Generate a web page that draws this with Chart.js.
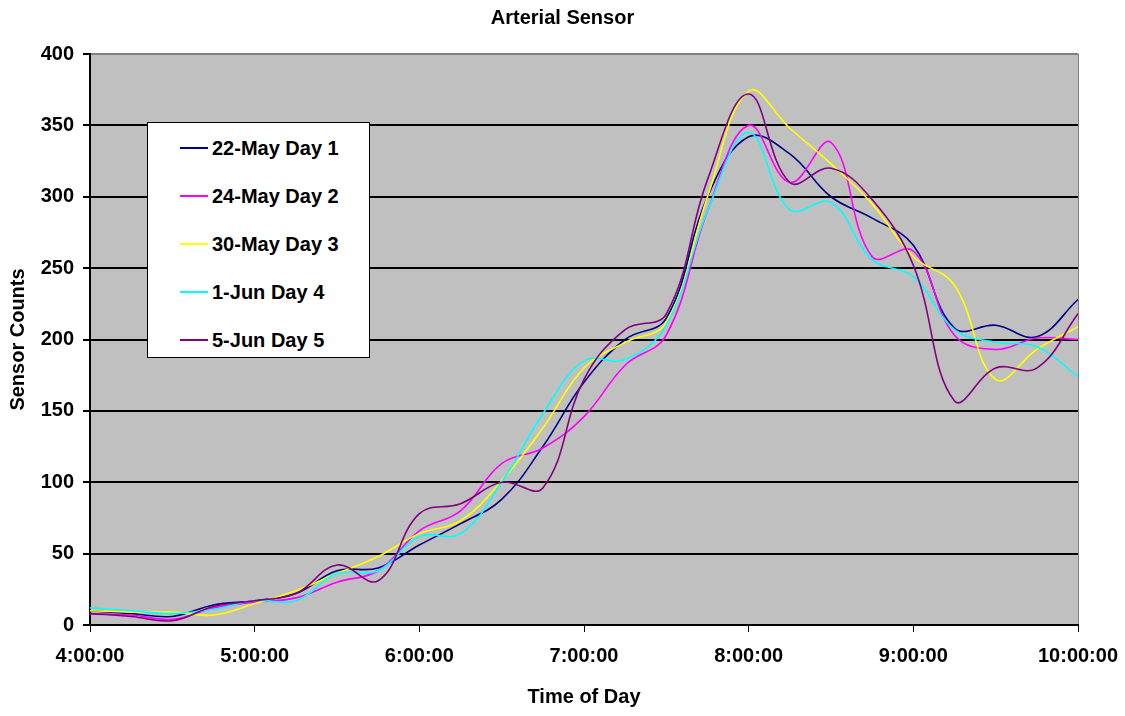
<!DOCTYPE html>
<html>
<head>
<meta charset="utf-8">
<title>Arterial Sensor</title>
<script src="https://cdn.jsdelivr.net/npm/chart.js@4.4.1/dist/chart.umd.min.js"></script>
<style>
  html, body { margin: 0; padding: 0; background: #fff; }
  .wrap { position: relative; width: 1125px; height: 716px; }
  #sensor-legend {
    position: absolute;
    left: 147px;
    top: 122px;
    width: 223px;
    height: 236px;
    box-sizing: border-box;
    background: #fff;
    border: 1px solid #000;
  }
</style>
</head>
<body>
<div class="wrap">
  <canvas id="sensor-chart"></canvas>
  <div id="sensor-legend"></div>
</div>
<script>
"use strict";

// 15 minute readings, 4am to 10am
var times = [
  "4:00:00", "4:15:00", "4:30:00", "4:45:00", "5:00:00", "5:15:00", "5:30:00",
  "5:45:00", "6:00:00", "6:15:00", "6:30:00", "6:45:00", "7:00:00", "7:15:00",
  "7:30:00", "7:45:00", "8:00:00", "8:15:00", "8:30:00", "8:45:00", "9:00:00",
  "9:15:00", "9:30:00", "9:45:00", "10:00:00"
];

var day1 = [10, 8, 6, 14, 17, 22, 38, 40, 56, 71, 88, 125, 170, 200, 215, 300, 342, 330, 300, 285, 266, 208, 210, 202, 228];
var day2 = [8, 7, 4, 12, 16, 19, 30, 38, 66, 80, 113, 124, 146, 182, 203, 290, 350, 310, 338, 258, 262, 203, 193, 201, 200];
var day3 = [10, 9, 9, 7, 15, 24, 36, 48, 64, 73, 101, 138, 180, 198, 212, 300, 374, 348, 323, 295, 258, 238, 172, 193, 209];
var day4 = [12, 10, 8, 11, 17, 17, 36, 38, 62, 64, 100, 148, 185, 186, 210, 290, 345, 291, 296, 256, 244, 207, 198, 195, 174];
var day5 = [8, 6, 3, 13, 17, 22, 42, 31, 78, 85, 100, 96, 172, 207, 218, 312, 372, 310, 320, 298, 252, 157, 180, 180, 218];

var seriesNames = ["22-May Day 1", "24-May Day 2", "30-May Day 3", "1-Jun Day 4", "5-Jun Day 5"];
var seriesColors = ["#000080", "#ff00ff", "#ffff00", "#00ffff", "#800080"];

var FONT = "Arial, 'Liberation Sans', sans-serif";

// gray plot area behind the lines
const plotBackground = {
  id: "plotBackground",
  beforeDraw(chart) {
    const { ctx, chartArea } = chart;
    ctx.save();
    ctx.fillStyle = "#c0c0c0";
    ctx.fillRect(chartArea.left, chartArea.top, chartArea.right - chartArea.left, chartArea.bottom - chartArea.top);
    ctx.restore();
  },
};

// boxed legend sitting over the plot
const htmlLegendPlugin = {
  id: "htmlLegend",
  afterUpdate(chart, args, options) {
    const box = document.getElementById(options.containerID);
    while (box.firstChild) {
      box.firstChild.remove();
    }

    const items = chart.options.plugins.legend.labels.generateLabels(chart);
    items.sort((a, b) => a.datasetIndex - b.datasetIndex);

    items.forEach((item, i) => {
      const row = document.createElement("div");
      row.style.position = "absolute";
      row.style.left = "32px";
      row.style.top = 13 + i * 48 + "px";
      row.style.height = "24px";
      row.style.display = "flex";
      row.style.alignItems = "center";

      const line = document.createElement("span");
      line.style.display = "inline-block";
      line.style.width = "28px";
      line.style.height = "2px";
      line.style.background = item.strokeStyle;
      line.style.marginRight = "4px";

      const text = document.createElement("span");
      text.style.font = "bold 20px " + FONT;
      text.style.color = "#000";
      text.style.whiteSpace = "nowrap";
      text.appendChild(document.createTextNode(item.text));

      row.appendChild(line);
      row.appendChild(text);
      box.appendChild(row);
    });
  },
};

var datasets = [day1, day2, day3, day4, day5].map(function (values, i) {
  return {
    label: seriesNames[i],
    data: values,
    borderColor: seriesColors[i],
    backgroundColor: seriesColors[i],
    borderWidth: 1.6,
    pointRadius: 0,
    tension: 0.4,
    fill: false,
    order: 5 - i,
  };
});

var ctx = document.getElementById("sensor-chart");
var myChart = new Chart(ctx, {
  type: "line",
  data: {
    labels: times,
    datasets: datasets,
  },
  options: {
    responsive: true,
    maintainAspectRatio: false,
    animation: false,
    layout: {
      padding: 0,
    },
    plugins: {
      legend: { display: false },
      tooltip: { enabled: false },
      htmlLegend: { containerID: "sensor-legend" },
      title: {
        display: true,
        text: "Arterial Sensor",
        color: "#000",
        font: { family: FONT, size: 20, weight: "bold", lineHeight: 1.2 },
        padding: { top: 6, bottom: 24 },
      },
    },
    scales: {
      x: {
        type: "category",
        offset: false,
        afterFit(scale) {
          scale.height = 91;
          // keep the plot's right edge fixed, the title stays centred on the page
          scale.paddingLeft = 0;
          scale.paddingRight = 47;
        },
        grid: {
          offset: false,
          drawOnChartArea: true,
          lineWidth: 1,
          tickLength: 7,
          color: (c) => (c.index === times.length - 1 ? "#808080" : "rgba(0,0,0,0)"),
          tickColor: (c) => (c.index % 4 === 0 ? "#000" : "rgba(0,0,0,0)"),
        },
        border: { color: "#000", width: 2 },
        ticks: {
          autoSkip: false,
          maxRotation: 0,
          padding: 12,
          color: "#000",
          font: { family: FONT, size: 20, weight: "bold" },
          callback: function (val, i) {
            return i % 4 === 0 ? this.getLabelForValue(val) : "";
          },
        },
        title: {
          display: true,
          text: "Time of Day",
          color: "#000",
          font: { family: FONT, size: 20, weight: "bold", lineHeight: 1.2 },
          padding: { top: 0, bottom: 7 },
        },
      },
      y: {
        min: 0,
        max: 400,
        afterFit(scale) {
          scale.width = 90;
        },
        grid: {
          lineWidth: 2,
          tickLength: 7,
          color: (c) => (c.tick && c.tick.value === 400 ? "#808080" : "#000"),
          tickColor: "#000",
        },
        border: { color: "#000", width: 2 },
        ticks: {
          stepSize: 50,
          padding: 9,
          color: "#000",
          font: { family: FONT, size: 20, weight: "bold" },
        },
        title: {
          display: true,
          text: "Sensor Counts",
          color: "#000",
          font: { family: FONT, size: 20, weight: "bold", lineHeight: 1.2 },
          padding: { top: 6, bottom: 0 },
        },
      },
    },
  },
  plugins: [plotBackground, htmlLegendPlugin],
});
</script>
</body>
</html>
